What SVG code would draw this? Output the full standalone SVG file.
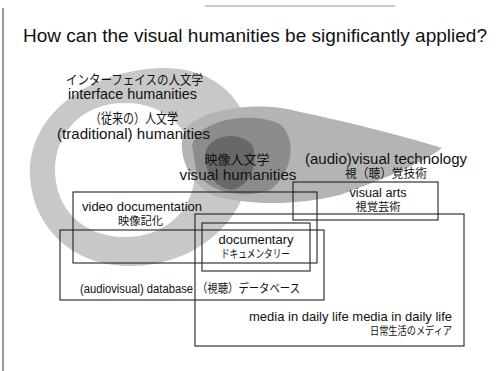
<svg xmlns="http://www.w3.org/2000/svg" width="496" height="371" viewBox="0 0 496 371">
  <style>
    .t { font-family: "Liberation Sans", "Noto Sans CJK JP", sans-serif; fill: #111; }
    .j { font-family: "Noto Sans CJK JP", "Liberation Sans", sans-serif; fill: #111; }
    .box { fill: none; stroke: #222; stroke-width: 1.1; }
  </style>
  <rect width="496" height="371" fill="#fff"/>

  <!-- page frame -->
  <g id="frame">
    <line x1="3" y1="8" x2="3" y2="371" stroke="#333" stroke-width="1"/>
    <line x1="205" y1="6" x2="395" y2="6" stroke="#999" stroke-width="1"/>
  </g>

  <text id="title" class="t" x="23" y="42" font-size="19" textLength="464" lengthAdjust="spacingAndGlyphs">How can the visual humanities be significantly applied?</text>

  <!-- humanities ring and visual humanities blob -->
  <g id="ring">
    <path fill="#c8c8c8" fill-rule="evenodd"
      d="M 30 175 C 28 120 80 72 160 68 C 215 66 250 100 252 150 C 254 215 200 266 130 266 C 70 266 32 225 30 175 Z
         M 125 103 C 168 103 195 133 195 170 C 195 208 168 237 125 237 C 82 237 55 208 55 170 C 55 133 82 103 125 103 Z"/>
  </g>
  <g id="blob">
    <path fill="#b4b4b4" d="M 185 130 C 200 108 260 100 300 112 C 340 120 400 135 442 148 C 420 165 380 180 340 195 C 300 205 250 206 215 196 C 190 186 175 152 185 130 Z"/>
    <path fill="#8c8c8c" d="M 192 145 C 198 120 250 110 280 124 C 298 140 292 174 270 190 C 242 200 206 192 196 170 Z"/>
    <path fill="#686868" d="M 206 150 C 213 134 240 131 252 145 C 260 162 250 186 232 190 C 214 188 202 170 206 150 Z"/>
  </g>

  <!-- ring labels -->
  <g id="interface">
    <text class="j" x="134.5" y="84" font-size="13" text-anchor="middle" textLength="137" lengthAdjust="spacingAndGlyphs">インターフェイスの人文学</text>
    <text class="t" x="132.5" y="99" font-size="14.5" text-anchor="middle" textLength="129" lengthAdjust="spacingAndGlyphs">interface humanities</text>
  </g>
  <g id="traditional">
    <text class="j" x="134" y="123" font-size="13.5" text-anchor="middle" textLength="88" lengthAdjust="spacingAndGlyphs">（従来の）人文学</text>
    <text class="t" x="133.5" y="139" font-size="15" text-anchor="middle" textLength="153" lengthAdjust="spacingAndGlyphs">(traditional) humanities</text>
  </g>
  <g id="visual-humanities">
    <text class="j" x="237" y="164" font-size="13" text-anchor="middle" textLength="65" lengthAdjust="spacingAndGlyphs">映像人文学</text>
    <text class="t" x="238" y="180" font-size="15" text-anchor="middle" textLength="117" lengthAdjust="spacingAndGlyphs">visual humanities</text>
  </g>
  <g id="technology">
    <text class="t" x="386" y="164" font-size="14" text-anchor="middle" textLength="162" lengthAdjust="spacingAndGlyphs">(audio)visual technology</text>
    <text class="j" x="386" y="178" font-size="12.5" text-anchor="middle" textLength="82" lengthAdjust="spacingAndGlyphs">視（聴）覚技術</text>
  </g>

  <!-- boxes -->
  <g id="visual-arts">
    <rect class="box" x="293" y="182" width="145" height="38"/>
    <text class="t" x="378" y="197" font-size="12.5" text-anchor="middle" textLength="57" lengthAdjust="spacingAndGlyphs">visual arts</text>
    <text class="j" x="378" y="211" font-size="11.5" text-anchor="middle" textLength="45" lengthAdjust="spacingAndGlyphs">視覚芸術</text>
  </g>
  <g id="media">
    <rect class="box" x="195" y="214" width="269" height="132"/>
    <text class="t" x="452" y="321" font-size="13" text-anchor="end" textLength="203" lengthAdjust="spacingAndGlyphs">media in daily life media in daily life</text>
    <text class="j" x="452" y="335" font-size="11" text-anchor="end" textLength="82" lengthAdjust="spacingAndGlyphs">日常生活のメディア</text>
  </g>
  <g id="video">
    <rect class="box" x="73" y="192" width="244" height="71"/>
    <text class="t" x="142" y="211" font-size="13" text-anchor="middle" textLength="120" lengthAdjust="spacingAndGlyphs">video documentation</text>
    <text class="j" x="140.5" y="225" font-size="11.5" text-anchor="middle" textLength="45" lengthAdjust="spacingAndGlyphs">映像記化</text>
  </g>
  <g id="database">
    <rect class="box" x="60" y="230" width="264" height="70"/>
    <text class="t" x="80" y="293" font-size="12.5" textLength="113" lengthAdjust="spacingAndGlyphs">(audiovisual) database</text>
    <text class="j" x="197" y="293" font-size="12" textLength="103" lengthAdjust="spacingAndGlyphs">（視聴）データベース</text>
  </g>
  <g id="documentary">
    <rect class="box" x="202" y="223" width="108" height="48"/>
    <text class="t" x="256" y="244" font-size="13" text-anchor="middle" textLength="75" lengthAdjust="spacingAndGlyphs">documentary</text>
    <text class="j" x="255.5" y="258" font-size="11.5" text-anchor="middle" textLength="69" lengthAdjust="spacingAndGlyphs">ドキュメンタリー</text>
  </g>
</svg>
